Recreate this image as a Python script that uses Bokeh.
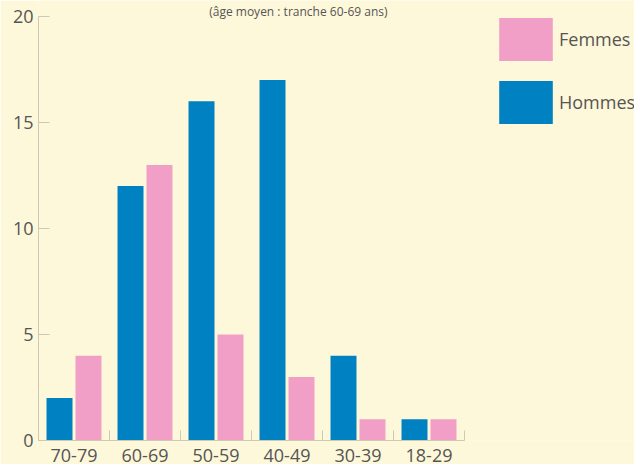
from bokeh.plotting import figure
from bokeh.models import (ColumnDataSource, Range1d, FixedTicker, Legend, LegendItem, Label)
from bokeh.transform import dodge
from bokeh.embed import file_html
from bokeh.resources import INLINE

categories = ["70-79", "60-69", "50-59", "40-49", "30-39", "18-29"]
hommes = [2, 12, 16, 17, 4, 1]
femmes = [4, 13, 5, 3, 1, 1]
y_ticks = [0, 5, 10, 15, 20]
subtitle = "(âge moyen : tranche 60-69 ans)"

BG = "#fef8da"
BLUE = "#0081c2"
PINK = "#f19fc6"
TXT = "#555555"
AX = "#cdc9b6"
FONT = "Open Sans"

W, H = 634, 464
LEFT, BOTTOM, TOP_GAP = 38, 24, 16
Y_MAX = 20
CAT_PX = 426 / len(categories)                  # pixel width of one category band
PX_PER_UNIT = (H - BOTTOM - TOP_GAP) / Y_MAX    # vertical pixels per count
x_end = (W - LEFT) / CAT_PX                     # frame runs to the right edge (room for legend)
y_end = (H - BOTTOM) / PX_PER_UNIT              # frame runs to the top edge (room for subtitle)

centers = [i + 0.5 for i in range(len(categories))]
src = ColumnDataSource(dict(x=centers, h=hommes, f=femmes))

p = figure(width=W, height=H, output_backend="svg", toolbar_location=None,
           x_range=Range1d(0, x_end), y_range=Range1d(0, y_end),
           min_border_left=LEFT, min_border_right=0, min_border_top=0, min_border_bottom=BOTTOM)
p.background_fill_color = BG
p.border_fill_color = BG
p.outline_line_color = None
p.grid.visible = False

rh = p.vbar(x=dodge("x", -0.204, range=p.x_range), top="h", width=0.366, source=src,
            fill_color=BLUE, line_color=None)
rf = p.vbar(x=dodge("x", 0.204, range=p.x_range), top="f", width=0.366, source=src,
            fill_color=PINK, line_color=None)

xa = p.xaxis[0]
xa.bounds = (0, len(categories))
xa.ticker = FixedTicker(ticks=centers, minor_ticks=list(range(len(categories) + 1)))
xa.major_label_overrides = {c: lab for c, lab in zip(centers, categories)}
xa.major_tick_in = 0
xa.major_tick_out = 0
xa.minor_tick_in = 10
xa.minor_tick_out = 0
xa.minor_tick_line_color = AX
xa.axis_line_color = AX
xa.major_label_text_font = FONT
xa.major_label_text_font_size = "18px"
xa.major_label_text_color = TXT
xa.major_label_standoff = 8

ya = p.yaxis[0]
ya.bounds = (0, Y_MAX)
ya.ticker = FixedTicker(ticks=y_ticks, minor_ticks=[])
ya.major_tick_in = 11
ya.major_tick_out = 0
ya.major_tick_line_color = AX
ya.axis_line_color = AX
ya.major_label_text_font = FONT
ya.major_label_text_font_size = "18px"
ya.major_label_text_color = TXT
ya.major_label_standoff = 5

legend = Legend(items=[LegendItem(label="Femmes", renderers=[rf]),
                       LegendItem(label="Hommes", renderers=[rh])],
                location=(454, 311), glyph_width=67, glyph_height=54, label_standoff=0,
                spacing=9, padding=0, margin=0, background_fill_alpha=0,
                border_line_color=None, label_text_font=FONT,
                label_text_font_size="18px", label_text_color=TXT)
p.add_layout(legend, "center")

p.add_layout(Label(x=3.66, y=20.24, text=subtitle, text_align="center", text_baseline="middle",
                   text_font=FONT, text_font_size="12px", text_color=TXT))

open("out.html", "w").write(file_html(p, INLINE))
